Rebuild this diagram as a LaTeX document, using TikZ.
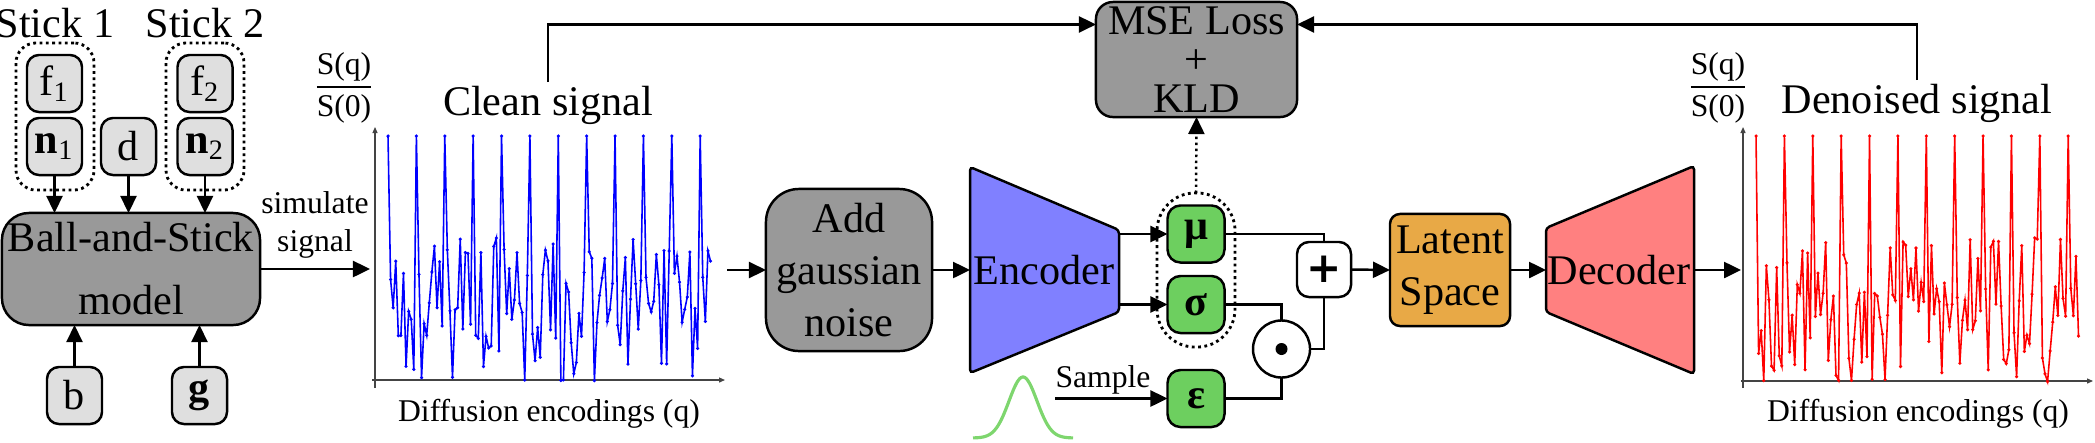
\documentclass[tikz,border=0pt]{standalone}
\usepackage{fontspec}
\setmainfont{Liberation Serif}
\newfontfamily\plusfont{DejaVu Sans}
\usetikzlibrary{arrows.meta}
\definecolor{paramgray}{HTML}{DFDFDF}
\definecolor{modelgray}{HTML}{999999}
\definecolor{encblue}{HTML}{8080FF}
\definecolor{decred}{HTML}{FF8080}
\definecolor{latorange}{HTML}{E8A946}
\definecolor{vargreen}{HTML}{6DCF5F}
\definecolor{gaussgreen}{HTML}{7ED66E}
\definecolor{axisgray}{HTML}{444444}

\begin{document}
\begin{tikzpicture}[x=0.01cm,y=-0.01cm,every node/.style={outer sep=0pt,inner sep=1pt}]
\tikzstyle{txt}=[font=\fontsize{12}{14}\selectfont]
\tikzstyle{smalllbl}=[font=\fontsize{9}{11}\selectfont]
\tikzstyle{param}=[draw,line width=0.7pt,fill=paramgray,rounded corners=0.12cm,minimum width=0.55cm,minimum height=0.57cm,txt]
\tikzstyle{group}=[draw,line width=0.8pt,densely dotted,rounded corners=0.2cm,minimum width=0.78cm,minimum height=1.47cm]
\tikzstyle{block}=[draw,line width=0.7pt,align=center]
\tikzstyle{var}=[draw,line width=0.7pt,fill=vargreen,rounded corners=0.13cm,minimum width=0.57cm,minimum height=0.57cm,font=\fontsize{12}{14}\selectfont\bfseries]
\tikzstyle{conn}=[line width=0.7pt,-{Triangle[length=0.17cm,width=0.16cm]}]
\tikzstyle{wire}=[line width=0.7pt]
\tikzstyle{axis}=[line width=0.35pt,axisgray,-{Triangle[length=0.06cm,width=0.05cm]}]
\tikzstyle{signal}=[line width=0.45pt]

\useasboundingbox (0,0) rectangle (2095,442);

% ball-and-stick parameters
\node (stk1) [txt,anchor=base] at (55,37) {Stick 1};
\node (stk2) [txt,anchor=base] at (205,37) {Stick 2};
\node (grp1) [group] at (55,116.5) {};
\node (grp2) [group] at (205,116.5) {};
\node (f1) [param] at (54.5,83.5) {f\textsubscript{1}};
\node (n1) [param] at (54.5,146.5) {\textbf{n}\textsubscript{1}};
\node (d) [param] at (128.5,146.5) {d};
\node (f2) [param] at (205,83.5) {f\textsubscript{2}};
\node (n2) [param] at (205,146.5) {\textbf{n}\textsubscript{2}};
\node (bas) [block,fill=modelgray,rounded corners=0.27cm,minimum width=2.58cm,minimum height=1.12cm,font=\fontsize{12}{17.9}\selectfont] at (131,269) {Ball-and-Stick\\model};
\node (b) [param] at (74.5,395.5) {b};
\node (g) [param] at (199.5,395.5) {\textbf{g}};

\draw [conn] (n1.south) -- (n1.south |- bas.north);
\draw [conn] (d.south) -- (d.south |- bas.north);
\draw [conn] (n2.south) -- (n2.south |- bas.north);
\draw [conn] (b.north) -- (b.north |- bas.south);
\draw [conn] (g.north) -- (g.north |- bas.south);

\coordinate (cleanin) at (370,269);
\draw [conn] (bas.east) -- (cleanin);
\node (simlbl) [smalllbl,align=center] at (315,225) {simulate\\signal};

% clean signal
\draw [axis] (372,380) -- (725,380);
\draw [axis] (375,388) -- (375,127);
\pgfmathsetseed{3}
\foreach \i in {0,...,125} {
  \pgfmathsetmacro{\v}{mod(\i,11)==0 ? 1 : 0.28+0.3*rand}
  \coordinate (cs\i) at ({388+2.58*\i},{376-240*\v});
}
\draw [signal,blue] (cs0) \foreach \i in {1,...,125} {-- (cs\i)};
\foreach \i in {0,...,125} \fill [blue] (cs\i) circle (0.5pt);
\node (cleanlbl) [txt,anchor=base] at (548,115) {Clean signal};
\node (frac1) [smalllbl,anchor=base] at (344,95) {$\displaystyle\frac{\hbox{S(q)}}{\hbox{S(0)}}$};
\node (xlbl1) [smalllbl,anchor=base] at (549,421) {Diffusion encodings (q)};

\coordinate (cleanout) at (727,270);
\node (noise) [block,fill=modelgray,rounded corners=0.33cm,minimum width=1.66cm,minimum height=1.62cm,font=\fontsize{12}{14.8}\selectfont] at (849,270) {Add\\gaussian\\noise};
\draw [conn] (cleanout) -- (noise.west);

% encoder
\draw [wire,fill=encblue,rounded corners=1pt] (970,167) -- (1119,230) -- (1119,312) -- (970,373) -- cycle;
\node (enc) [txt] at (1044,270) {Encoder};
\coordinate (encL) at (970,270);
\coordinate (encR) at (1119,270);
\draw [conn] (noise.east) -- (encL);

\node (musig) [group,minimum height=1.54cm,rounded corners=0.38cm] at (1196,270) {};
\node (mu) [var] at (1196,234) {μ};
\node (sig) [var] at (1196,304.5) {σ};
\node (eps) [var] at (1196,398.5) {ε};
\draw [conn] (mu.west -| encR) -- (mu.west);
\draw [conn] (sig.west -| encR) -- (sig.west);

\draw [gaussgreen,line width=0.9pt] plot[domain=-50:50,samples=80] ({1023+(\x)},{438-61*exp(-0.5*(\x)*(\x)/196)});
\coordinate (sstart) at (1055,398.5);
\draw [conn] (sstart) -- (eps.west);
\node (samplbl) [smalllbl,anchor=base] at (1103,387) {Sample};

% loss
\node (mse) [block,fill=modelgray,rounded corners=0.17cm,minimum width=2.01cm,minimum height=1.15cm,font=\fontsize{12}{11}\selectfont] at (1196.5,59.5) {MSE Loss\\+\\KLD};
\draw [conn,densely dotted] (musig.north) -- (mse.south);
\draw [conn] (cleanlbl.north) |- ([yshift=0.35cm]mse.west);

% reparametrisation
\node (sum) [block,fill=white,rounded corners=0.12cm,minimum width=0.54cm,minimum height=0.55cm,font=\fontsize{12}{12}\plusfont\bfseries\selectfont] at (1324,269.5) {+};
\node (prod) [draw,wire,circle,fill=white,minimum size=0.57cm] at (1281.5,349) {};
\fill (prod.center) circle (0.06cm);
\draw [wire] (mu.east) -| (sum.north);
\draw [wire] (sig.east) -| (prod.north);
\draw [wire] (eps.east) -| (prod.south);
\draw [wire] (prod.east) -| (sum.south);

\node (latent) [block,fill=latorange,rounded corners=0.1cm,minimum width=1.2cm,minimum height=1.12cm,font=\fontsize{12}{14.8}\selectfont] at (1450,270) {Latent\\Space};
\draw [conn] (sum.east) -- (latent.west);

% decoder
\draw [wire,fill=decred,rounded corners=1pt] (1546,228) -- (1694,166) -- (1694,374) -- (1546,312) -- cycle;
\node (dec) [txt] at (1619,270) {Decoder};
\coordinate (decL) at (1546,270);
\coordinate (decR) at (1694,270);
\draw [conn] (latent.east) -- (decL);
\coordinate (denin) at (1741,270);
\draw [conn] (decR) -- (denin);

% denoised signal
\draw [axis] (1741,381) -- (2093,381);
\draw [axis] (1743,388) -- (1743,127);
\pgfmathsetseed{17}
\foreach \i in {0,...,125} {
  \pgfmathsetmacro{\v}{mod(\i,11)==0 ? 1 : 0.28+0.3*rand}
  \coordinate (ds\i) at ({1756+2.58*\i},{377-241*\v});
}
\draw [signal,red] (ds0) \foreach \i in {1,...,125} {-- (ds\i)};
\foreach \i in {0,...,125} \fill [red] (ds\i) circle (0.5pt);
\node (denlbl) [txt,anchor=base] at (1917,113) {Denoised signal};
\node (frac2) [smalllbl,anchor=base] at (1718,95) {$\displaystyle\frac{\hbox{S(q)}}{\hbox{S(0)}}$};
\node (xlbl2) [smalllbl,anchor=base] at (1918,421) {Diffusion encodings (q)};
\draw [conn] (denlbl.north) |- ([yshift=0.35cm]mse.east);
\end{tikzpicture}
\end{document}
